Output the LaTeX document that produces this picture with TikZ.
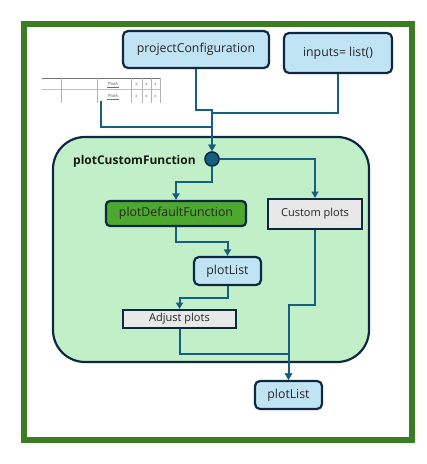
\documentclass[tikz,border=0pt]{standalone}
\usepackage{fontspec}
\setmainfont{Open Sans}
\usepackage{tikz}
\usetikzlibrary{
	arrows.meta,									% 箭头样式
	positioning,									% 节点摆放
}
\definecolor{frameGreen}{HTML}{3B7D23}
\definecolor{funcGreen}{HTML}{C1F0C8}
\definecolor{darkGreen}{HTML}{4EA72E}
\definecolor{boxBlue}{HTML}{C1E4F5}
\definecolor{boxGray}{HTML}{E8E8E8}
\definecolor{edgeNavy}{HTML}{0E2841}
\definecolor{lineBlue}{HTML}{156082}

\begin{document}
\begin{tikzpicture}[x=1pt, y=-1pt,
		box/.style={draw=edgeNavy, line width=2.2pt, rounded corners=5pt, fill=boxBlue, text=black!85, font=\fontsize{12.3}{14}\selectfont, inner sep=0pt},
		plain/.style={draw=edgeNavy, line width=2pt, fill=boxGray, text=black!85, font=\fontsize{11}{13}\selectfont, inner sep=0pt},
		conn/.style={draw=lineBlue, line width=2pt, -{Triangle[length=6.5pt, width=7pt]}},
		link/.style={draw=lineBlue, line width=2pt},
		cell/.style={font=\fontsize{4}{5}\selectfont, text=black!70, inner sep=0pt},
	]
		\useasboundingbox (0,0) rectangle (427,464);
		% 外框
		\draw[frameGreen, line width=6pt] (24,24) rectangle (412,440);
		% 函数区域
		\draw[edgeNavy, line width=2.2pt, fill=funcGreen, rounded corners=32pt] (53,137) rectangle (369,362);
		\node[anchor=west, font=\bfseries\fontsize{12}{14}\selectfont, text=black!90, inner sep=0pt] (fname) at (73,161) {plotCustomFunction};
		
		% 输入
		\node[box, minimum width=146pt, minimum height=37pt] (config) at (196,49.5) {projectConfiguration};
		\node[box, minimum width=108pt, minimum height=40pt] (inputs) at (338,53) {inputs= list()};
		
		% 表格截图
		\draw[black!55, line width=0.8pt] (42,78) -- (160,78);
		\draw[black!25, line width=0.5pt] (42,89.5) -- (160,89.5);
		\foreach \cx in {61,97,131,142,151,160}
			\draw[black!30, line width=0.5pt] (\cx,78) -- (\cx,103);
		\foreach \cy in {84,96}{
			\node[cell] at (113,\cy) {PlotA};
			\draw[red!80, line width=0.4pt] (107,\cy+3) -- (119,\cy+3);
			\foreach \cx in {136.5,146.5,155.5}
				\node[cell] at (\cx,\cy) {x};
		}
		\coordinate (table) at (101,101);
		
		% 节点
		\node[circle, draw=edgeNavy, line width=1.6pt, fill=lineBlue, minimum size=14pt, inner sep=0pt] (hub) at (212,159) {};
		\node[plain, minimum width=94pt, minimum height=30pt] (custom) at (315,214) {Custom plots};
		\node[box, fill=darkGreen, rounded corners=4pt, minimum width=140pt, minimum height=25pt] (default) at (176,213.5) {plotDefaultFunction};
		\node[box, minimum width=67pt, minimum height=28pt] (listA) at (227.5,271) {plotList};
		\node[plain, minimum width=113pt, minimum height=18pt] (adjust) at (179.5,319) {Adjust plots};
		\node[box, minimum width=67pt, minimum height=28pt] (listB) at (288.5,395) {plotList};
		
		% 连线
		\draw[conn] (config.south) -- ++(0,41) -| (hub.north);
		\draw[link] (inputs.south) -- ++(0,39) -| (hub.north |- 0,112);
		\draw[conn] (table) |- (hub.north |- 0,127) -- (hub.north);
		\draw[conn] (hub.east) -| (custom.north);
		\draw[conn] (hub.south) -- ++(0,15) -| (default.north);
		\draw[conn] (default.south) -- ++(0,15) -| (listA.north);
		\draw[conn] (listA.south) -- ++(0,12) -| (adjust.north);
		\draw[conn] (adjust.south) |- (listB.north |- 0,354) -- (listB.north);
		\draw[conn] (custom.south) |- (listB.north |- 0,305) -- (listB.north);
	\end{tikzpicture}
\end{document}
